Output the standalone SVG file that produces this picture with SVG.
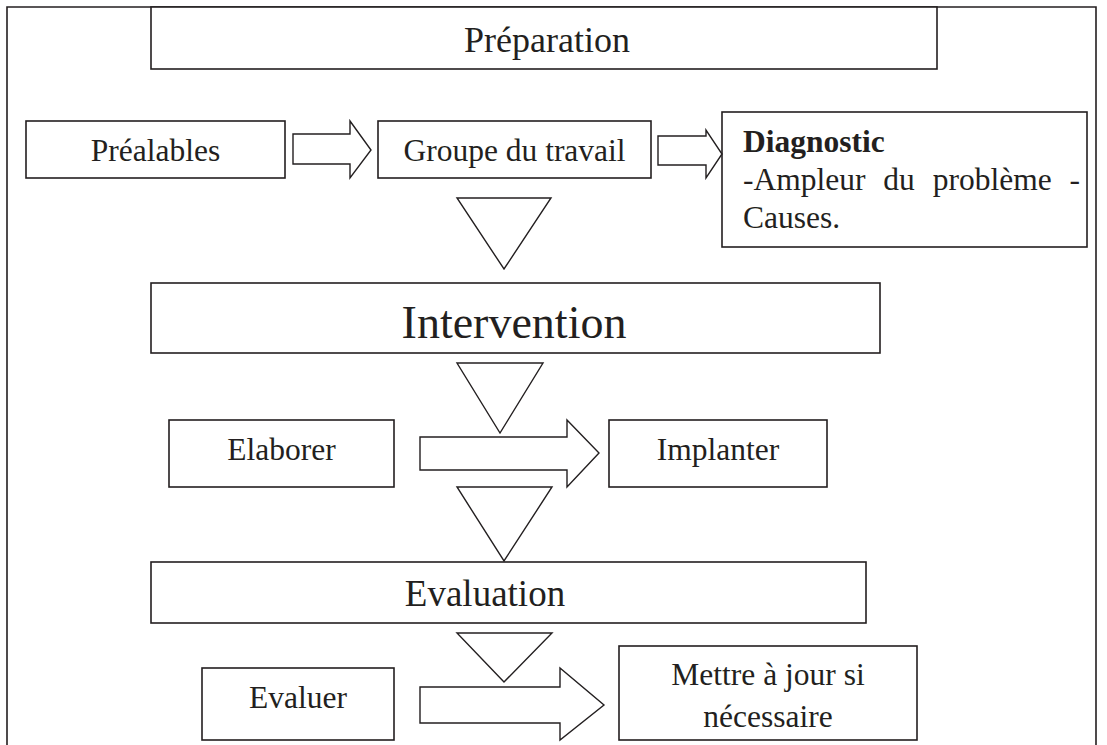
<svg xmlns="http://www.w3.org/2000/svg" width="1107" height="745" viewBox="0 0 1107 745">
<style>
.b{fill:#fff;stroke:#231f20;stroke-width:1.6}
.s{fill:#fff;stroke:#231f20;stroke-width:1.4;stroke-linejoin:miter}
.t{font-family:"Liberation Serif","Times New Roman",serif;fill:#231f20;font-size:31.5px;text-anchor:middle}
</style>
<rect width="1107" height="745" fill="#fff"/>
<g id="frame"><path d="M7,745 V7 H1096 V745" fill="none" stroke="#231f20" stroke-width="1.6"/></g>
<g id="preparation"><rect class="b" x="151" y="7" width="786" height="62"/><text class="t" x="547" y="52" style="font-size:36px">Préparation</text></g>
<g id="prealables"><rect class="b" x="26" y="121" width="259" height="57"/><text class="t" x="155.5" y="161">Préalables</text></g>
<g id="groupe"><rect class="b" x="378" y="121" width="273" height="57"/><text class="t" x="514.5" y="161">Groupe du travail</text></g>
<g id="diagnostic"><rect class="b" x="722" y="112" width="365" height="135"/>
<text class="t" style="text-anchor:start"><tspan x="743" y="152" font-weight="bold">Diagnostic</tspan><tspan x="743" y="190" word-spacing="10">-Ampleur du problème -</tspan><tspan x="743" y="228">Causes.</tspan></text></g>
<g id="intervention"><rect class="b" x="151" y="283" width="729" height="70"/><text class="t" x="514" y="338" style="font-size:46px">Intervention</text></g>
<g id="elaborer"><rect class="b" x="169" y="420" width="225" height="67"/><text class="t" x="281.5" y="460">Elaborer</text></g>
<g id="implanter"><rect class="b" x="609" y="420" width="218" height="67"/><text class="t" x="718" y="460">Implanter</text></g>
<g id="evaluation"><rect class="b" x="151" y="562" width="715" height="61"/><text class="t" x="485" y="606" style="font-size:37px">Evaluation</text></g>
<g id="evaluer"><rect class="b" x="202" y="668" width="192" height="72"/><text class="t" x="298" y="708">Evaluer</text></g>
<g id="mettre"><rect class="b" x="619" y="646" width="298" height="94"/><text class="t"><tspan x="768" y="685">Mettre à jour si</tspan><tspan x="768" y="727">nécessaire</tspan></text></g>
<g id="connectors">
<polygon class="s" points="293,134 350,134 350,121 371,150 350,178 350,164 293,164"/>
<polygon class="s" points="658,136 706,136 706,130 722,154 706,178 706,165 658,165"/>
<polygon class="s" points="457,198 551,198 504,269"/>
<polygon class="s" points="457,363 543,363 500,433"/>
<polygon class="s" points="420,437 567,437 567,420 599,453 567,487 567,470 420,470"/>
<polygon class="s" points="457,487 552,487 504,561"/>
<polygon class="s" points="457,633 552,633 504,682"/>
<polygon class="s" points="420,687 560,687 560,668 604,705 560,740 560,723 420,723"/>
</g>
</svg>
